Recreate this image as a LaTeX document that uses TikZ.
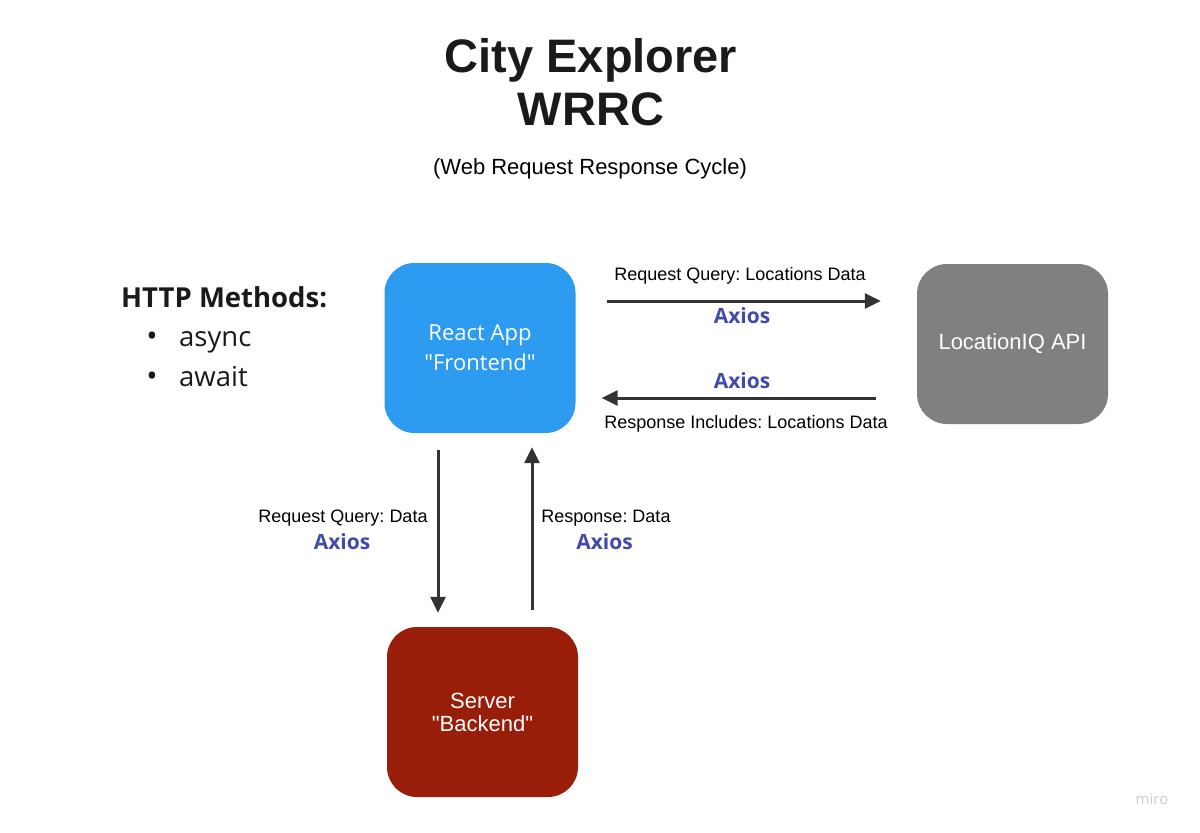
\documentclass[tikz,border=0pt]{standalone}
\usepackage{fontspec}
\setmainfont{Liberation Sans}
\newfontfamily\arial{Liberation Sans}
\newfontfamily\osans{Open Sans}
\usetikzlibrary{arrows.meta}
\frenchspacing
\definecolor{reactblue}{RGB}{45,155,240}
\definecolor{apigray}{RGB}{128,128,128}
\definecolor{serverred}{RGB}{153,30,10}
\definecolor{axiosblue}{RGB}{65,75,170}
\definecolor{arrowdark}{RGB}{51,51,51}
\definecolor{mirogray}{RGB}{205,205,210}
\definecolor{inkblack}{RGB}{26,26,26}
\tikzset{
  box/.style={rounded corners=30pt, minimum width=191pt, minimum height=170pt, inner sep=0pt, text=white, align=center},
  conn/.style={draw=arrowdark, line width=3pt, -{Triangle[length=16pt,width=15pt]}},
  lbl/.style={font=\arial\fontsize{18}{21}\selectfont, text=black, inner sep=0pt, anchor=base},
  axios/.style={font=\osans\bfseries\fontsize{21}{25}\selectfont, text=axiosblue, inner sep=0pt, anchor=base},
  listtext/.style={font=\osans\fontsize{27.5}{32}\selectfont, anchor=base west, inner sep=0pt, text=inkblack},
  bulletmark/.style={font=\osans\fontsize{30}{32}\selectfont, inner sep=0pt, text=inkblack},
}
\begin{document}
\begin{tikzpicture}[x=1pt,y=-1pt]
\useasboundingbox (0,0) rectangle (1200,833);
\fill[white] (0,0) rectangle (1200,833);

% titles
\node[font=\arial\bfseries\fontsize{47}{52}\selectfont, text=inkblack, inner sep=0pt, anchor=base] (title1) at (591,72) {City Explorer};
\node[font=\arial\bfseries\fontsize{47}{52}\selectfont, text=inkblack, inner sep=0pt, anchor=base] (title2) at (591,125) {WRRC};
\node[font=\arial\fontsize{22}{26}\selectfont, inner sep=0pt, anchor=base] (subtitle) at (590,174) {(Web Request Response Cycle)};

% HTTP methods
\node[font=\osans\bfseries\fontsize{27.5}{32}\selectfont, anchor=base west, inner sep=0pt, text=inkblack] (http) at (121,307) {HTTP Methods:};
\node[bulletmark] (b1) at (152,339) {•};
\node[listtext] (async) at (179,346) {async};
\node[bulletmark] (b2) at (152,379) {•};
\node[listtext] (await) at (179,386) {await};

% boxes
\node[box, fill=reactblue, font=\osans\fontsize{22}{30}\selectfont] (react) at (480,348) {React App\\"Frontend"};
\node[box, fill=apigray, minimum height=160pt, font=\arial\fontsize{22}{26}\selectfont] (loc) at (1012.5,344) {LocationIQ API};
\node[box, fill=serverred, font=\arial\fontsize{22}{23}\selectfont] (server) at (482.5,712) {Server\\"Backend"};

% horizontal arrows
\draw[conn, shorten <=31pt, shorten >=36pt] ([yshift=47pt]react.east) -- ([yshift=43pt]loc.west);
\draw[conn, shorten <=41pt, shorten >=26pt] ([yshift=-54pt]loc.west) -- ([yshift=-50pt]react.east);

% vertical arrows
\draw[conn, shorten <=17pt, shorten >=14pt] ([xshift=-42pt]react.south) -- ([xshift=-44.5pt]server.north);
\draw[conn, shorten <=17pt, shorten >=14pt] ([xshift=49.5pt]server.north) -- ([xshift=52pt]react.south);

% labels
\node[lbl] (l1) at (740,280) {Request Query: Locations Data};
\node[axios] (a1) at (742,323) {Axios};
\node[axios] (a2) at (742,388) {Axios};
\node[lbl] (l2) at (746,428) {Response Includes: Locations Data};
\node[lbl] (l3) at (343,522) {Request Query: Data};
\node[axios] (a3) at (342,549) {Axios};
\node[lbl] (l4) at (606,522) {Response: Data};
\node[axios] (a4) at (604.5,549) {Axios};

% watermark
\node[font=\osans\fontsize{15}{17}\selectfont, text=mirogray, inner sep=0pt] (miro) at (1152,799) {miro};
\end{tikzpicture}
\end{document}
